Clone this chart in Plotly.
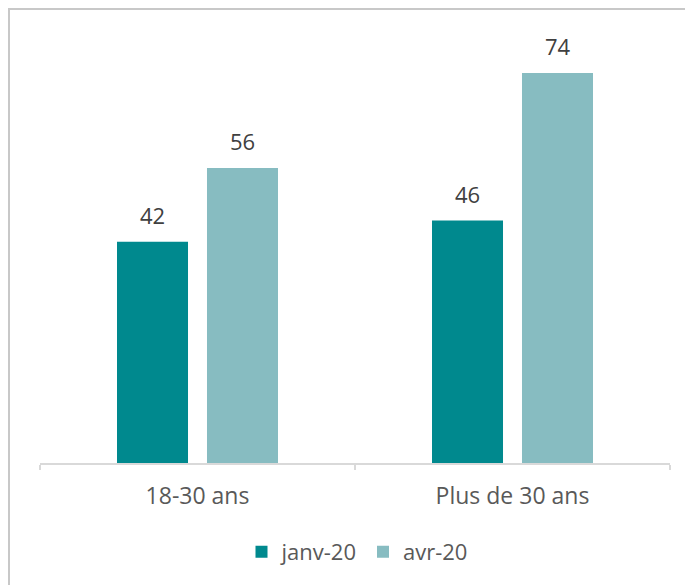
import plotly.graph_objects as go

categories = ["18-30 ans", "Plus de 30 ans"]
series_names = ["janv-20", "avr-20"]
janv_values = [42, 46]
avr_values = [56, 74]
colors = ["#00898E", "#87BCC1"]

# page body adds an 8px offset; coordinates below are in figure space
W, H = 693, 585
L, R, T, B = 32, 31, 12, 130
plot_w = W - L - R
plot_h = H - T - B
ymax = 84.06

def px_x(px):
    return (px - L) / plot_w

def px_y(py):
    return (H - B - py) / plot_h

FONT = "Open Sans"

fig = go.Figure()
for name, vals, col in zip(series_names, [janv_values, avr_values], colors):
    fig.add_trace(go.Bar(name=name, x=categories, y=vals, marker_color=col,
                         marker_line_width=0))

annotations = []
for vals, shift in [(janv_values, -45), (avr_values, 45)]:
    for c, v in zip(categories, vals):
        annotations.append(dict(x=c, y=v, text=str(v), showarrow=False,
                                xshift=shift, yshift=10, yanchor="bottom",
                                font=dict(family=FONT, size=22, color="#404040")))

fig.update_layout(
    width=W, height=H,
    margin=dict(l=L, r=R, t=T, b=B),
    paper_bgcolor="white", plot_bgcolor="white",
    barmode="group", bargap=0.4286, bargroupgap=0.211,
    showlegend=True,
    legend=dict(orientation="h", x=px_x(349), xanchor="center", y=px_y(544), yanchor="middle",
                font=dict(family=FONT, size=22, color="#595959"),
                traceorder="normal", itemwidth=30),
    xaxis=dict(showline=True, linecolor="#D9D9D9", linewidth=1.5,
               ticks="outside", tickson="boundaries", ticklen=5, tickcolor="#D9D9D9",
               tickwidth=1.5, ticklabelstandoff=12,
               tickfont=dict(family=FONT, size=23, color="#595959"), showgrid=False),
    yaxis=dict(range=[0, ymax], visible=False, showgrid=False),
    annotations=annotations,
    shapes=[
        dict(type="line", xref="paper", yref="paper", x0=px_x(0), x1=px_x(700),
             y0=px_y(1), y1=px_y(1), line=dict(color="#C8C8C8", width=2)),
        dict(type="line", xref="paper", yref="paper", x0=px_x(1), x1=px_x(1),
             y0=px_y(1), y1=px_y(600), line=dict(color="#C8C8C8", width=2)),
    ],
)

fig.write_html("out.html")
